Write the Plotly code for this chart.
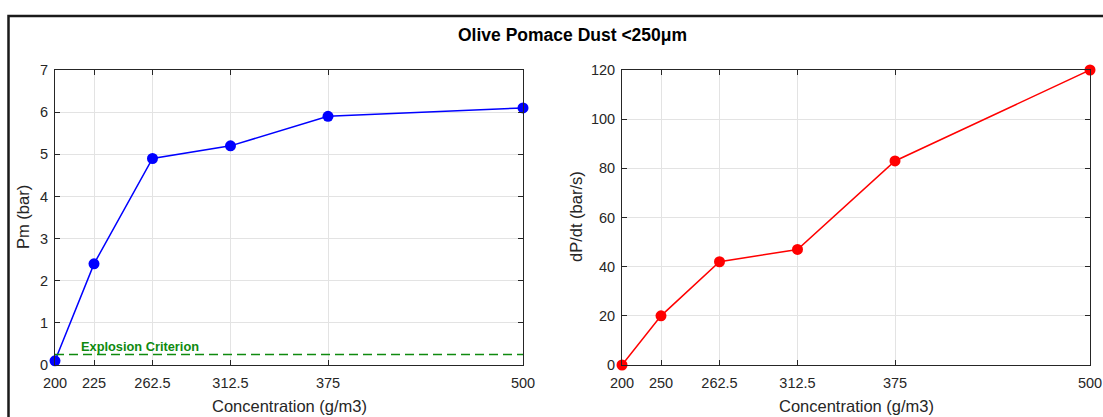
import plotly.graph_objects as go

# Dust concentration (g/m3) and measured explosion parameters
concentration = [200, 225, 262.5, 312.5, 375, 500]
pmax_bar = [0.1, 2.4, 4.9, 5.2, 5.9, 6.1]
dpdt_bar_s = [0, 20, 42, 47, 83, 120]

tick_vals = [200, 225, 262.5, 312.5, 375, 500]
left_tick_text = ["200", "225", "262.5", "312.5", "375", "500"]
right_tick_text = ["200", "250", "262.5", "312.5", "375", "500"]

criterion_bar = 0.25

W, H = 1103, 417
FONT = "Liberation Sans, Arial, sans-serif"
AX = "#262626"


def px_x(p):
    return p / W


def px_y(p):
    return 1 - p / H


fig = go.Figure()

fig.add_trace(go.Scatter(
    x=concentration, y=pmax_bar, mode="lines+markers",
    line=dict(color="#0000ff", width=1.5),
    marker=dict(color="#0000ff", size=11),
    cliponaxis=False, xaxis="x", yaxis="y", showlegend=False,
))
fig.add_trace(go.Scatter(
    x=[concentration[0], concentration[-1]], y=[criterion_bar, criterion_bar],
    mode="lines", line=dict(color="#0f8a0f", width=1.5, dash="9px,5px"),
    xaxis="x", yaxis="y", showlegend=False,
))
fig.add_trace(go.Scatter(
    x=concentration, y=dpdt_bar_s, mode="lines+markers",
    line=dict(color="#ff0000", width=1.5),
    marker=dict(color="#ff0000", size=11),
    cliponaxis=False, xaxis="x2", yaxis="y2", showlegend=False,
))

axis_common = dict(
    showline=True, linecolor=AX, linewidth=1, mirror="ticks",
    ticks="inside", ticklen=5, tickcolor=AX, automargin=False,
    showgrid=True, gridcolor="#e3e3e3", gridwidth=1, zeroline=False,
    tickfont=dict(family=FONT, size=14.5, color=AX),
)
x_common = dict(ticklabelstandoff=5, **axis_common)
y_common = dict(ticklabelstandoff=3, **axis_common)

left_dom = [px_x(55), px_x(523)]
right_dom = [px_x(622), px_x(1090)]
y_dom = [px_y(365), px_y(70)]

fig.update_layout(
    width=W, height=H,
    margin=dict(l=0, r=0, t=0, b=0),
    paper_bgcolor="white", plot_bgcolor="white",
    xaxis=dict(domain=left_dom, range=[200, 500], tickmode="array",
               tickvals=tick_vals, ticktext=left_tick_text, anchor="y", **x_common),
    yaxis=dict(domain=y_dom, range=[0, 7], dtick=1, anchor="x", **y_common),
    xaxis2=dict(domain=right_dom, range=[200, 500], tickmode="array",
                tickvals=tick_vals, ticktext=right_tick_text, anchor="y2", **x_common),
    yaxis2=dict(domain=y_dom, range=[0, 120], dtick=20, anchor="x2", **y_common),
)

# Figure frame
fig.add_shape(type="rect", xref="paper", yref="paper",
              x0=px_x(8.5), x1=px_x(1110), y0=px_y(430), y1=px_y(16),
              line=dict(color="#1a1a1a", width=2.5), fillcolor="rgba(0,0,0,0)")

annotations = [
    dict(text="<b>Olive Pomace Dust <250μm</b>", x=px_x(572), y=px_y(35),
         font=dict(family=FONT, size=17.5, color="black")),
    dict(text="Concentration (g/m3)", x=px_x(289), y=px_y(406),
         font=dict(family=FONT, size=16.5, color=AX)),
    dict(text="Concentration (g/m3)", x=px_x(856), y=px_y(406),
         font=dict(family=FONT, size=16.5, color=AX)),
    dict(text="Pm (bar)", x=px_x(23), y=px_y(217), textangle=-90,
         font=dict(family=FONT, size=16.5, color=AX)),
    dict(text="dP/dt (bar/s)", x=px_x(576), y=px_y(217), textangle=-90,
         font=dict(family=FONT, size=16.5, color=AX)),
    dict(text="<b>Explosion Criterion</b>", x=px_x(79), y=px_y(346.5), xanchor="left",
         font=dict(family=FONT, size=12.8, color="#0f8a0f")),
]
for a in annotations:
    a.setdefault("xanchor", "center")
    fig.add_annotation(xref="paper", yref="paper", yanchor="middle",
                       showarrow=False, **a)

fig.write_html("out.html")
